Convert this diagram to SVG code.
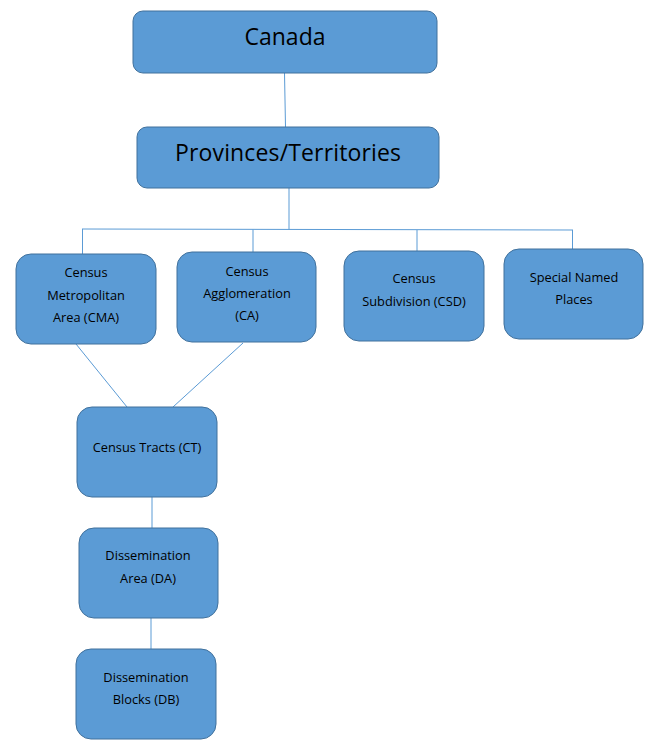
<svg xmlns="http://www.w3.org/2000/svg" width="652" height="747" viewBox="0 0 652 747">
<style>
.box{fill:#5B9BD5;stroke:#41719C;stroke-width:1}
.t{font-family:"Open Sans","Liberation Sans",sans-serif;fill:#000;text-anchor:middle}
.big{font-size:23px}
.sm{font-size:12.8px}
.c{stroke:#5B9BD5;stroke-width:1;fill:none}
</style>
<rect width="652" height="747" fill="#fff"/>
<g id="connectors">
<line class="c" x1="284.5" y1="73" x2="285.5" y2="127"/>
<line class="c" x1="289" y1="188" x2="289" y2="229.5"/>
<line class="c" x1="82" y1="229" x2="573" y2="230"/>
<line class="c" x1="82.5" y1="229" x2="82.5" y2="254"/>
<line class="c" x1="253" y1="229.5" x2="253" y2="252"/>
<line class="c" x1="417" y1="230" x2="417" y2="251"/>
<line class="c" x1="572.5" y1="230" x2="572.5" y2="249"/>
<line class="c" x1="76" y1="344" x2="127" y2="407"/>
<line class="c" x1="243" y1="343" x2="173" y2="407"/>
<line class="c" x1="152" y1="497" x2="152" y2="528"/>
<line class="c" x1="151" y1="618" x2="151" y2="649"/>
</g>
<g id="canada"><rect class="box" x="133" y="11" width="304" height="62" rx="10"/><text class="t big" x="285" y="45">Canada</text></g>
<g id="provinces"><rect class="box" x="137" y="127" width="302" height="61" rx="10"/><text class="t big" x="288" y="161" textLength="226" lengthAdjust="spacing">Provinces/Territories</text></g>
<g id="cma"><rect class="box" x="16" y="254" width="140" height="90" rx="15"/><text class="t sm" x="86" y="277">Census</text><text class="t sm" x="86" y="300">Metropolitan</text><text class="t sm" x="86" y="322">Area (CMA)</text></g>
<g id="ca"><rect class="box" x="177" y="252" width="139" height="90" rx="15"/><text class="t sm" x="247" y="276">Census</text><text class="t sm" x="247" y="298">Agglomeration</text><text class="t sm" x="247" y="320">(CA)</text></g>
<g id="csd"><rect class="box" x="344" y="251" width="140" height="90" rx="15"/><text class="t sm" x="414" y="283">Census</text><text class="t sm" x="414" y="306">Subdivision (CSD)</text></g>
<g id="snp"><rect class="box" x="504" y="249" width="139" height="90" rx="15"/><text class="t sm" x="574" y="282">Special Named</text><text class="t sm" x="574" y="304">Places</text></g>
<g id="ct"><rect class="box" x="77" y="407" width="140" height="90" rx="15"/><text class="t sm" x="147" y="452">Census Tracts (CT)</text></g>
<g id="da"><rect class="box" x="79" y="528" width="139" height="90" rx="15"/><text class="t sm" x="148" y="560">Dissemination</text><text class="t sm" x="148" y="583">Area (DA)</text></g>
<g id="db"><rect class="box" x="76" y="649" width="140" height="90" rx="15"/><text class="t sm" x="146" y="682">Dissemination</text><text class="t sm" x="146" y="704">Blocks (DB)</text></g>
</svg>
